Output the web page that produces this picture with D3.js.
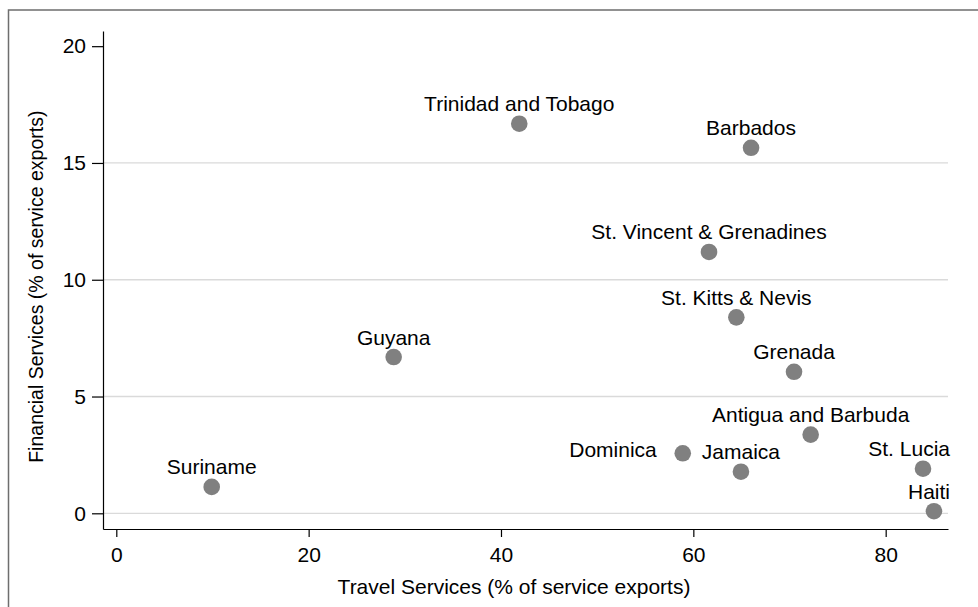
<!DOCTYPE html>
<html>
<head>
<meta charset="utf-8">
<script src="https://cdn.jsdelivr.net/npm/d3@7"></script>
<style>
  html, body { margin: 0; padding: 0; background: #fff; }
  svg { display: block; font-family: "Liberation Sans", Arial, Helvetica, sans-serif; }
</style>
</head>
<body>
<svg id="chart" width="978" height="607"></svg>
<script>
// ---- data ----
const countries = ["Trinidad and Tobago", "Barbados", "St. Vincent & Grenadines", "St. Kitts & Nevis",
  "Guyana", "Grenada", "Antigua and Barbuda", "Dominica", "Jamaica", "St. Lucia", "Suriname", "Haiti"];
const travel    = [41.9, 66.0, 61.63, 64.47, 28.84, 70.47, 72.2, 58.9, 64.95, 83.88, 9.92, 85.02];
const financial = [16.68, 15.65, 11.19, 8.39, 6.69, 6.06, 3.37, 2.57, 1.78, 1.91, 1.13, 0.09];
const xTicks = [0, 20, 40, 60, 80];
const yTicks = [0, 5, 10, 15, 20];
const gridTicks = [0, 5, 10, 15];
const xTitle = "Travel Services (% of service exports)";
const yTitle = "Financial Services (% of service exports)";
const leftLabeled = new Set(["Dominica"]);

// ---- layout ----
const svg = d3.select("#chart");
const plot = { left: 103, right: 948, top: 31, bottom: 529 };

const x = d3.scaleLinear().domain([-1.383, 86.48]).range([plot.left, plot.right]);
const y = d3.scaleLinear().domain([-0.672, 20.65]).range([plot.bottom, plot.top]);

// outer frame
svg.append("rect")
  .attr("x", 8.5).attr("y", 10).attr("width", 1100).attr("height", 800)
  .attr("fill", "none").attr("stroke", "#6e6e6e").attr("stroke-width", 1.5);

// gridlines
svg.append("g").selectAll("line").data(gridTicks).join("line")
  .attr("x1", plot.left).attr("x2", plot.right)
  .attr("y1", d => y(d)).attr("y2", d => y(d))
  .attr("stroke", "#dadada").attr("stroke-width", 1.3);

// x axis
const gx = svg.append("g").attr("transform", `translate(0,${plot.bottom})`)
  .call(d3.axisBottom(x).tickValues(xTicks).tickSize(8).tickSizeOuter(0).tickFormat(d3.format("d")));
gx.select(".domain").attr("stroke", "#000").attr("stroke-width", 1.2);
gx.selectAll(".tick line").attr("stroke", "#000").attr("stroke-width", 1.2);
gx.selectAll(".tick text").attr("y", 32.7).attr("dy", null)
  .attr("font-size", 21).attr("fill", "#000").attr("font-family", "Liberation Sans, Arial, sans-serif");

// y axis
const gy = svg.append("g").attr("transform", `translate(${plot.left},0)`)
  .call(d3.axisLeft(y).tickValues(yTicks).tickSize(11).tickSizeOuter(0).tickFormat(d3.format("d")));
gy.select(".domain").attr("stroke", "#000").attr("stroke-width", 1.2);
gy.selectAll(".tick line").attr("stroke", "#000").attr("stroke-width", 1.2);
gy.selectAll(".tick text").attr("x", -17).attr("dy", "0.32em")
  .attr("font-size", 21).attr("fill", "#000").attr("font-family", "Liberation Sans, Arial, sans-serif");

// axis titles
svg.append("text").attr("x", 514).attr("y", 594).attr("text-anchor", "middle")
  .attr("font-size", 21).attr("fill", "#000").text(xTitle);
svg.append("text").attr("transform", "translate(43,286.7) rotate(-90)").attr("text-anchor", "middle")
  .attr("font-size", 19.5).attr("fill", "#000").text(yTitle);

// points
const data = countries.map((c, i) => ({ name: c, tx: travel[i], fs: financial[i] }));
svg.append("g").selectAll("circle").data(data).join("circle")
  .attr("cx", d => x(d.tx)).attr("cy", d => y(d.fs)).attr("r", 8.3)
  .attr("fill", "#808080");

// labels
const lg = svg.append("g");
data.forEach(d => {
  const cx = x(d.tx), cy = y(d.fs);
  const t = lg.append("text").attr("font-size", 21).attr("fill", "#000").text(d.name);
  if (leftLabeled.has(d.name)) {
    t.attr("x", cx - 26).attr("y", cy + 3.5).attr("text-anchor", "end");
  } else {
    const w = t.node().getComputedTextLength();
    let left = cx - w / 2;
    if (left + w > plot.right + 2) left = plot.right + 2 - w;
    t.attr("x", left).attr("y", cy - 12.5).attr("text-anchor", "start");
  }
});
</script>
</body>
</html>
